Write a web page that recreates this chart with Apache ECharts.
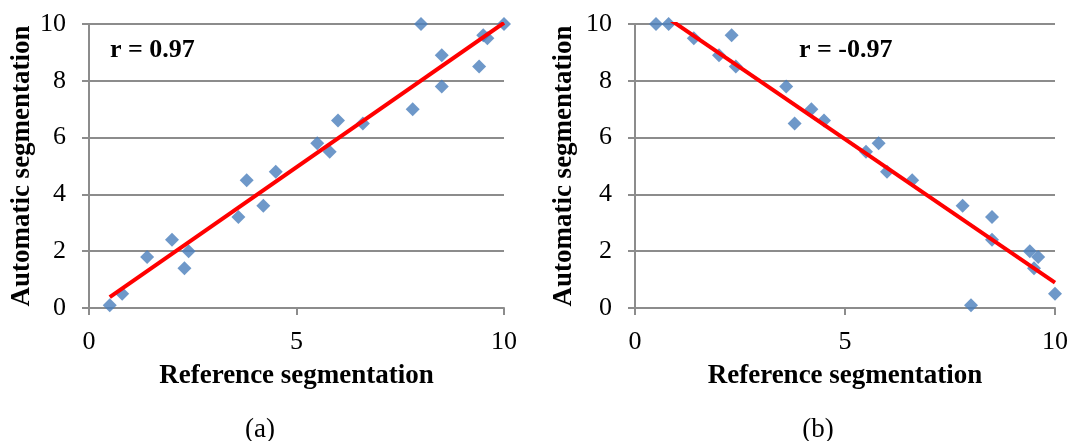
<!DOCTYPE html>
<html>
<head>
<meta charset="utf-8">
<script src="https://cdn.jsdelivr.net/npm/echarts@6/dist/echarts.min.js"></script>
<style>
html,body{margin:0;padding:0;background:#fff;}
#chart{width:1075px;height:441px;}
</style>
</head>
<body>
<div id="chart"></div>
<script>
// Panel (a): reference vs automatic segmentation
const refA  = [0.5, 0.8, 1.4, 2.0, 2.3, 2.4, 3.6, 3.8, 4.2, 4.5, 5.5, 5.8, 6.0, 6.6, 7.8, 8.0, 8.5, 8.5, 9.4, 9.5, 9.6, 10.0];
const autoA = [0.1, 0.5, 1.8, 2.4, 1.4, 2.0, 3.2, 4.5, 3.6, 4.8, 5.8, 5.5, 6.6, 6.5, 7.0, 10.0, 8.9, 7.8, 8.5, 9.6, 9.5, 10.0];
// Panel (b)
const refB  = [0.5, 0.8, 1.4, 2.0, 2.3, 2.4, 3.6, 3.8, 4.2, 4.5, 5.5, 5.8, 6.0, 6.6, 7.8, 8.0, 8.5, 8.5, 9.4, 9.5, 9.6, 10.0];
const autoB = [10.0, 10.0, 9.5, 8.9, 9.6, 8.5, 7.8, 6.5, 7.0, 6.6, 5.5, 5.8, 4.8, 4.5, 3.6, 0.1, 3.2, 2.4, 2.0, 1.4, 1.8, 0.5];
const xTicks = [0, 5, 10];
const yTicks = [0, 2, 4, 6, 8, 10];
const rLabels = ['r = 0.97', 'r = -0.97'];
const panelLabels = ['(a)', '(b)'];
const xName = 'Reference segmentation';
const yName = 'Automatic segmentation';

function fit(xs, ys) {
  const n = xs.length;
  let sx = 0, sy = 0, sxx = 0, sxy = 0;
  for (let i = 0; i < n; i++) { sx += xs[i]; sy += ys[i]; sxx += xs[i]*xs[i]; sxy += xs[i]*ys[i]; }
  const b = (n*sxy - sx*sy) / (n*sxx - sx*sx);
  const a = (sy - b*sx) / n;
  const x0 = Math.min(...xs), x1 = Math.max(...xs);
  return [[x0, a + b*x0], [x1, a + b*x1]];
}
const pairs = (xs, ys) => xs.map((x, i) => [x, ys[i]]);

const FONT = 'Liberation Serif';
const gray = '#8c8c8c';
function xAxis(idx) {
  return {
    gridIndex: idx, type: 'value', min: 0, max: 10, interval: 5,
    name: xName, nameLocation: 'middle', nameGap: 55,
    nameTextStyle: { fontFamily: FONT, fontWeight: 'bold', fontSize: 27, color: '#000' },
    axisLine: { show: true, lineStyle: { color: gray, width: 2 } },
    axisTick: { show: true, inside: false, length: 7, lineStyle: { color: gray, width: 2 } },
    axisLabel: { fontFamily: FONT, fontSize: 26, color: '#000', margin: 21,
      formatter: v => xTicks.includes(v) ? String(v) : '' },
    splitLine: { show: false }
  };
}
function yAxis(idx, gap) {
  return {
    gridIndex: idx, type: 'value', min: 0, max: 10, interval: 2,
    name: yName, nameLocation: 'middle', nameGap: gap,
    nameTextStyle: { fontFamily: FONT, fontWeight: 'bold', fontSize: 27, color: '#000' },
    axisLine: { show: true, lineStyle: { color: gray, width: 2 } },
    axisTick: { show: true, inside: false, length: 7, lineStyle: { color: gray, width: 2 } },
    axisLabel: { fontFamily: FONT, fontSize: 26, color: '#000', margin: 23,
      formatter: v => yTicks.includes(v) ? String(v) : '' },
    splitLine: { show: true, lineStyle: { color: gray, width: 2 } }
  };
}
function scatter(idx, xs, ys) {
  return { type: 'scatter', xAxisIndex: idx, yAxisIndex: idx, symbol: 'diamond', symbolSize: 14,
    itemStyle: { color: '#4a7ebb' }, data: pairs(xs, ys), z: 3, silent: true };
}
function trend(idx, xs, ys) {
  return { type: 'line', xAxisIndex: idx, yAxisIndex: idx, data: fit(xs, ys), showSymbol: false, clip: true,
    lineStyle: { color: '#ff0000', width: 4 }, z: 4, silent: true };
}

const chart = echarts.init(document.getElementById('chart'));
chart.setOption({
  animation: false,
  backgroundColor: '#fff',
  grid: [
    { left: 89, top: 24, width: 415, height: 284 },
    { left: 635, top: 24, width: 420, height: 284 }
  ],
  xAxis: [xAxis(0), xAxis(1)],
  yAxis: [yAxis(0, 53), yAxis(1, 57)],
  title: [
    { text: rLabels[0], left: 110, top: 37, textStyle: { fontFamily: FONT, fontWeight: 'bold', fontSize: 26, color: '#000' }, padding: 0 },
    { text: rLabels[1], left: 799, top: 37, textStyle: { fontFamily: FONT, fontWeight: 'bold', fontSize: 26, color: '#000' }, padding: 0 },
    { text: panelLabels[0], left: 260, top: 430, textAlign: 'center', textVerticalAlign: 'middle', textStyle: { fontFamily: FONT, fontWeight: 'normal', fontSize: 27, color: '#000' }, padding: 0 },
    { text: panelLabels[1], left: 818, top: 430, textAlign: 'center', textVerticalAlign: 'middle', textStyle: { fontFamily: FONT, fontWeight: 'normal', fontSize: 27, color: '#000' }, padding: 0 }
  ],
  series: [
    scatter(0, refA, autoA), trend(0, refA, autoA),
    scatter(1, refB, autoB), trend(1, refB, autoB)
  ]
});
</script>
</body>
</html>
